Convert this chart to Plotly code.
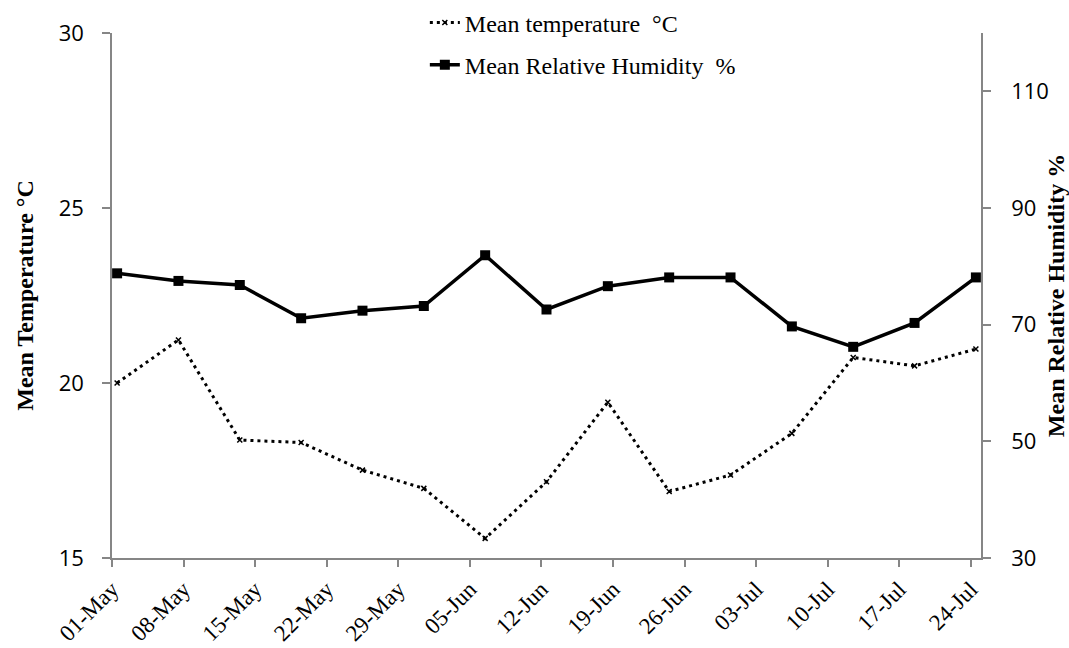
import plotly.graph_objects as go

# ---- data ----
dates = [
    "2019-05-01 12:00", "2019-05-07 12:00", "2019-05-13 12:00", "2019-05-19 12:00",
    "2019-05-25 12:00", "2019-05-31 12:00", "2019-06-06 12:00", "2019-06-12 12:00",
    "2019-06-18 12:00", "2019-06-24 12:00", "2019-06-30 12:00", "2019-07-06 12:00",
    "2019-07-12 12:00", "2019-07-18 12:00", "2019-07-24 12:00",
]
mean_temperature = [20.0, 21.23, 18.37, 18.3, 17.51, 16.99, 15.56, 17.18,
                    19.45, 16.9, 17.37, 18.56, 20.73, 20.49, 20.97]
mean_humidity = [78.8, 77.5, 76.8, 71.1, 72.4, 73.2, 81.9, 72.6,
                 76.6, 78.1, 78.1, 69.7, 66.2, 70.3, 78.1]

temp_name = "Mean temperature \u00a0°C"
hum_name = "Mean Relative Humidity \u00a0%"
left_title = "Mean Temperature °C"
right_title = "Mean Relative Humidity %"

left_ticks = [15, 20, 25, 30]
right_ticks = [30, 50, 70, 90, 110]

SERIF = "Liberation Serif, Times New Roman, serif"
SANS = "Open Sans, Carlito, Calibri, sans-serif"
AXIS_GREY = "#868686"

fig = go.Figure()
fig.add_trace(go.Scatter(
    x=dates, y=mean_temperature, name=temp_name, mode="lines+markers",
    line=dict(color="black", width=3, dash="3px,4px"),
    marker=dict(symbol="x-thin", size=5, color="black",
                line=dict(color="black", width=1.5)),
    legendgroup="t", yaxis="y",
))
fig.add_trace(go.Scatter(
    x=dates, y=mean_humidity, name=hum_name, mode="lines+markers",
    line=dict(color="black", width=3.5),
    marker=dict(symbol="square", size=10, color="black"),
    legendgroup="h", yaxis="y2",
))

fig.update_layout(
    width=1069, height=648,
    margin=dict(l=112, r=88, t=33, b=90, autoexpand=False),
    paper_bgcolor="white", plot_bgcolor="white",
    showlegend=True,
    legend=dict(
        x=0.36, y=1.062, xanchor="left", yanchor="top",
        font=dict(family=SERIF, size=24, color="black"),
        bgcolor="rgba(0,0,0,0)", tracegroupgap=8,
        traceorder="grouped",
    ),
    xaxis=dict(
        type="date",
        range=["2019-05-01", "2019-07-25"],
        tick0="2019-05-01", dtick=7 * 24 * 3600 * 1000,
        tickformat="%d-%b", tickangle=-45,
        tickfont=dict(family=SERIF, size=23, color="black"),
        showline=True, linecolor=AXIS_GREY, linewidth=1.5,
        ticks="outside", ticklen=7, tickcolor=AXIS_GREY, tickwidth=1.5,
        showgrid=False, zeroline=False,
    ),
    yaxis=dict(
        range=[15, 30], tickvals=left_ticks,
        tickfont=dict(family=SANS, size=22, color="black"),
        showline=True, linecolor=AXIS_GREY, linewidth=1.5,
        ticks="outside", ticklen=8, tickcolor=AXIS_GREY, tickwidth=1.5,
        ticklabelstandoff=14,
        showgrid=False, zeroline=False,
        title=dict(text=left_title,
                   font=dict(family=SERIF, size=24, color="black", weight="bold"),
                   standoff=18),
    ),
    yaxis2=dict(
        range=[30, 120], tickvals=right_ticks,
        overlaying="y", side="right", anchor="x",
        ticklabelposition="outside",
        ticklabelstandoff=16,
        tickfont=dict(family=SANS, size=22, color="black"),
        showline=True, linecolor=AXIS_GREY, linewidth=1.5,
        ticks="outside", ticklen=8, tickcolor=AXIS_GREY, tickwidth=1.5,
        showgrid=False, zeroline=False,
        title=dict(text=right_title,
                   font=dict(family=SERIF, size=24, color="black", weight="bold"),
                   standoff=2),
    ),
)

fig.write_html("out.html")
